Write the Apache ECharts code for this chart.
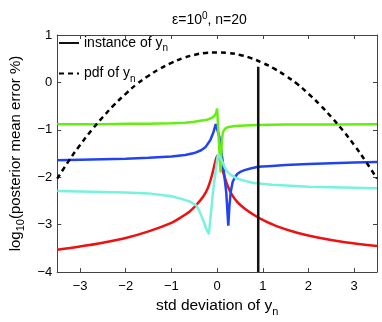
<!DOCTYPE html>
<html><head><meta charset="utf-8">
<script src="https://cdn.jsdelivr.net/npm/echarts@6/dist/echarts.min.js"></script>
<style>html,body{margin:0;padding:0;background:#fff}#c{width:382px;height:322px}</style>
</head><body><div id="c"></div>
<script>
const xTicks = [-3, -2, -1, 0, 1, 2, 3];
const yTicks = [-4, -3, -2, -1, 0, 1];

const greenX = [-3.5,-3,-2.5,-2,-1.5,-1,-0.7,-0.5,-0.3,-0.2,-0.12,-0.06,-0.02,0.0,0.075,0.105,0.13,0.18,0.25,0.4,0.6,0.9,1.5,2.5,3.5];
const greenY = [-0.88,-0.88,-0.88,-0.87,-0.87,-0.86,-0.85,-0.83,-0.8,-0.78,-0.75,-0.71,-0.64,-0.55,-1.9,-1.2,-1.04,-0.97,-0.94,-0.92,-0.91,-0.9,-0.89,-0.89,-0.88];

const blueX = [-3.5,-3,-2.5,-2,-1.5,-1,-0.7,-0.5,-0.35,-0.25,-0.15,-0.08,-0.03,-0.01,0.05,0.12,0.2,0.245,0.27,0.3,0.34,0.39,0.44,0.52,0.6,0.75,0.9,1.2,1.5,2,3,3.5];
const blueY = [-1.64,-1.63,-1.62,-1.61,-1.59,-1.56,-1.53,-1.49,-1.43,-1.36,-1.22,-1.05,-0.88,-0.85,-1.15,-1.65,-2.32,-3.02,-2.6,-2.3,-2.1,-2.0,-1.93,-1.88,-1.85,-1.81,-1.78,-1.76,-1.74,-1.72,-1.69,-1.68];

const redX = [-3.5,-3,-2.5,-2,-1.5,-1,-0.8,-0.6,-0.45,-0.3,-0.2,-0.12,-0.06,-0.02,0.01,0.05,0.09,0.15,0.23,0.32,0.44,0.6,0.8,1.0,1.3,1.75,2.2,2.8,3.5];
const redY = [-3.53,-3.46,-3.38,-3.28,-3.14,-2.96,-2.85,-2.72,-2.58,-2.4,-2.22,-1.98,-1.75,-1.6,-1.54,-1.6,-1.75,-1.95,-2.18,-2.36,-2.52,-2.66,-2.79,-2.9,-3.03,-3.17,-3.27,-3.37,-3.45];

const cyanX = [-3.5,-3,-2.5,-2,-1.5,-1,-0.8,-0.6,-0.45,-0.38,-0.3,-0.24,-0.18,-0.09,-0.03,0.02,0.05,0.1,0.16,0.22,0.3,0.42,0.55,0.8,1.2,2,3,3.5];
const cyanY = [-2.29,-2.3,-2.31,-2.32,-2.34,-2.4,-2.45,-2.51,-2.6,-2.73,-2.92,-3.08,-3.2,-2.32,-1.85,-1.51,-1.5,-1.64,-1.78,-1.88,-1.95,-2.02,-2.06,-2.12,-2.16,-2.2,-2.22,-2.23];

const instanceX = [0.9, 0.9];
const instanceY = [-4, 0.33];

const pdfX = [-3.5,-3.25,-3,-2.75,-2.5,-2.25,-2,-1.75,-1.5,-1.25,-1,-0.75,-0.5,-0.25,0,0.25,0.5,0.75,1,1.25,1.5,1.75,2,2.25,2.5,2.75,3,3.25,3.5];
const pdfY = [-2.03,-1.66,-1.32,-1.01,-0.73,-0.47,-0.24,-0.03,0.14,0.29,0.41,0.51,0.58,0.62,0.63,0.62,0.58,0.51,0.41,0.29,0.14,-0.03,-0.24,-0.47,-0.73,-1.01,-1.32,-1.66,-2.03];

const zip = (xs, ys) => xs.map((x, i) => [x, ys[i]]);
const FONT = '"Liberation Sans", Arial, Helvetica, sans-serif';
const minus = v => String(v).replace('-', '\u2212');
const richName = (big) => ({
  t: { fontSize: big, color: '#000', fontFamily: FONT },
  s: { fontSize: Math.round(big * 0.7), color: '#000', fontFamily: FONT, padding: [11, 0, 0, 0] }
});

const lineSeries = (name, xs, ys, color, extra) => Object.assign({
  name, type: 'line', data: zip(xs, ys), showSymbol: false, symbol: 'none',
  lineStyle: { color, width: 2.5 }, itemStyle: { color }, animation: false,
  xAxisIndex: 0, yAxisIndex: 0
}, extra || {});

const chart = echarts.init(document.getElementById('c'), null, { renderer: 'canvas' });
chart.setOption({
  animation: false,
  textStyle: { fontFamily: FONT },
  title: {
    text: '{a|\u03b5=10}{b|0}{a|, n=20}',
    left: 167, top: 6,
    textStyle: {
      fontWeight: 'normal',
      rich: {
        a: { fontSize: 14, color: '#000', fontFamily: FONT, fontWeight: 'normal' },
        b: { fontSize: 10, color: '#000', fontFamily: FONT, fontWeight: 'normal', padding: [0, 0, 9, 0] }
      }
    }
  },
  grid: { left: 48, right: 5, top: 35, bottom: 39, containLabel: false },
  legend: {
    orient: 'vertical', left: 53, top: 31, itemWidth: 20, itemHeight: 14, itemGap: 13,
    itemStyle: { opacity: 0 },
    data: ['instance', 'pdf'],
    formatter: n => n === 'instance' ? '{t|instance of y}{s|n}' : '{t|pdf of y}{s|n}',
    textStyle: { rich: richName(14) }
  },
  xAxis: [{
    type: 'value', min: -3.5, max: 3.5, position: 'bottom',
    name: '{t|std deviation of y}{s|n}', nameLocation: 'middle', nameGap: 22,
    nameTextStyle: { rich: richName(15.5) },
    axisLine: { onZero: false, lineStyle: { color: '#444', width: 1 } },
    axisTick: { inside: true, length: 4, customValues: xTicks, lineStyle: { color: '#444' } },
    axisLabel: { customValues: xTicks, fontSize: 13, color: '#000', margin: 8, formatter: minus },
    splitLine: { show: false }
  }, {
    type: 'value', min: -3.5, max: 3.5, position: 'top',
    axisLine: { onZero: false, lineStyle: { color: '#444', width: 1 } },
    axisTick: { inside: true, length: 4, customValues: xTicks, lineStyle: { color: '#444' } },
    axisLabel: { show: false }, splitLine: { show: false }
  }],
  yAxis: [{
    type: 'value', min: -4, max: 1, interval: 1, position: 'left',
    name: '{t|log}{s|10}{t|(posterior mean error %)}', nameLocation: 'middle', nameGap: 30,
    nameTextStyle: { rich: richName(15) },
    axisLine: { onZero: false, lineStyle: { color: '#444', width: 1 } },
    axisTick: { inside: true, length: 4, lineStyle: { color: '#444' } },
    axisLabel: { fontSize: 13, color: '#000', margin: 5, formatter: minus },
    splitLine: { show: false }
  }, {
    type: 'value', min: -4, max: 1, interval: 1, position: 'right',
    axisLine: { onZero: false, lineStyle: { color: '#444', width: 1 } },
    axisTick: { inside: true, length: 4, lineStyle: { color: '#444' } },
    axisLabel: { show: false }, splitLine: { show: false }
  }],
  series: [
    lineSeries('red', redX, redY, '#ee1111', { smooth: 0.35 }),
    lineSeries('blue', blueX, blueY, '#2244ee'),
    lineSeries('green', greenX, greenY, '#66ee11'),
    lineSeries('cyan', cyanX, cyanY, '#77f2dc'),
    lineSeries('instance', instanceX, instanceY, '#111', { lineStyle: { color: '#111', width: 2.5 } }),
    lineSeries('pdf', pdfX, pdfY, '#000', { smooth: true, lineStyle: { color: '#000', width: 2.5, type: [5, 4] } })
  ]
});
</script></body></html>
